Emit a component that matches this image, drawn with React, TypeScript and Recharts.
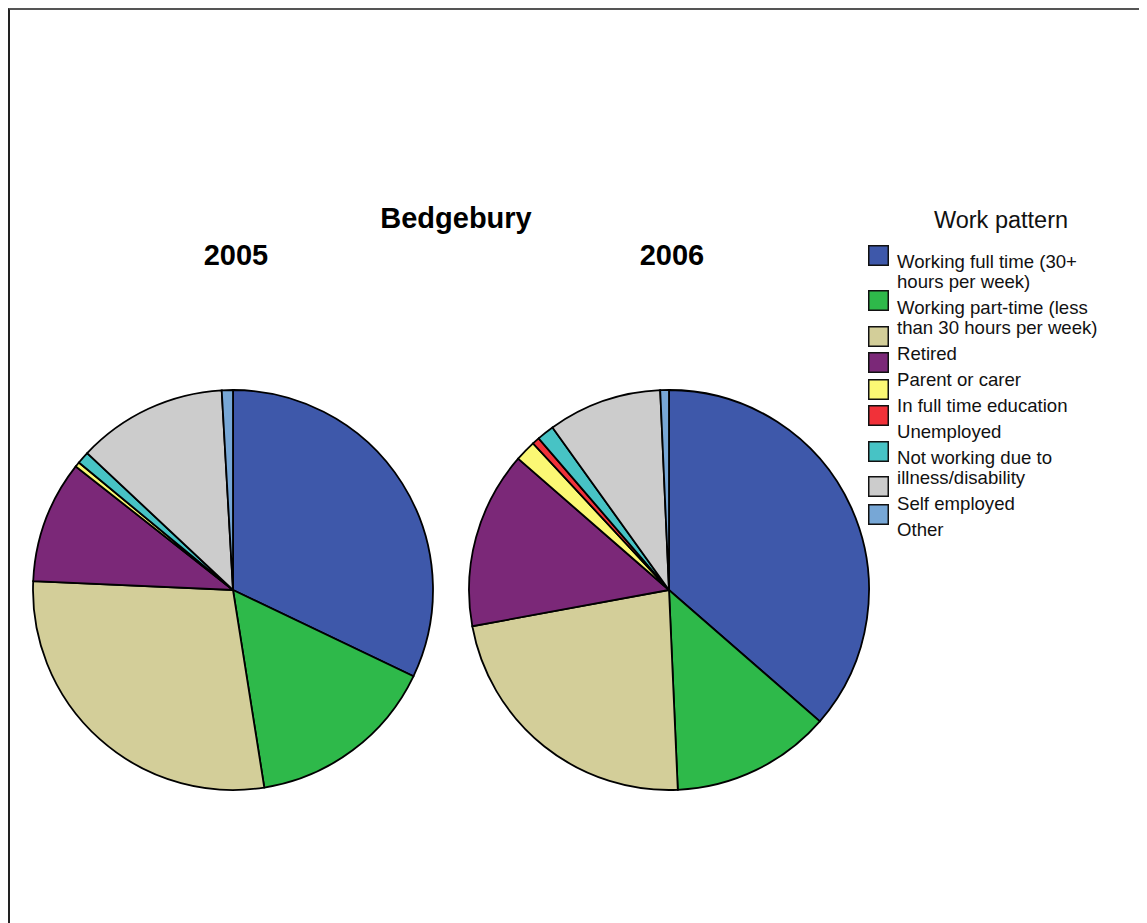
import React from 'react';
import { PieChart, Pie, Cell, Legend } from 'recharts';

// Work pattern categories, in legend / slice order
const categories = [
  'Working full time (30+ hours per week)',
  'Working part-time (less than 30 hours per week)',
  'Retired',
  'Parent or carer',
  'In full time education',
  'Unemployed',
  'Not working due to illness/disability',
  'Self employed',
  'Other',
];

// Legend text, wrapped the way it is printed
const legendLines = [
  ['Working full time (30+', 'hours per week)'],
  ['Working part-time (less', 'than 30 hours per week)'],
  ['Retired'],
  ['Parent or carer'],
  ['In full time education'],
  ['Unemployed'],
  ['Not working due to', 'illness/disability'],
  ['Self employed'],
  ['Other'],
];

// Share of respondents (%) per year
const values2005 = [32.1, 15.4, 28.2, 9.9, 0.4, 0, 1.0, 12.1, 0.9];
const values2006 = [36.4, 12.9, 22.8, 14.3, 1.7, 0.6, 1.4, 9.2, 0.7];

const colors = [
  '#3E58AA',
  '#2EB94A',
  '#D3CE99',
  '#7B2878',
  '#FBF874',
  '#F13139',
  '#47C3C5',
  '#CCCCCC',
  '#77A7D6',
];

const years = ['2005', '2006'];
const chartTitle = 'Bedgebury';
const legendTitle = 'Work pattern';

const data = categories.map((name, i) => ({
  name,
  y2005: values2005[i],
  y2006: values2006[i],
}));

const FONT = '"Liberation Sans", Arial, sans-serif';

// legend swatch tops (legend-local px)
const swatchTops = [45, 90, 126, 152, 179, 205, 241, 276, 304];

const renderLegend = () => {
  let y = 67.5;
  const textRows: React.ReactNode[] = [];
  legendLines.forEach((lines, i) => {
    lines.forEach((line, j) => {
      textRows.push(
        <text key={`t${i}-${j}`} x={37} y={y} fontSize={18.6} fill="#111" fontFamily={FONT}>
          {line}
        </text>
      );
      y += j < lines.length - 1 ? 20 : 26;
    });
  });
  return (
    <svg width={287} height={350} style={{ display: 'block' }}>
      <text x={141} y={28} textAnchor="middle" fontSize={23.5} fill="#111" fontFamily={FONT}>
        {legendTitle}
      </text>
      {categories.map((c, i) => (
        <rect
          key={c}
          x={8.75}
          y={swatchTops[i] + 0.75}
          width={19.5}
          height={19.5}
          fill={colors[i]}
          stroke="#111"
          strokeWidth={1.5}
        />
      ))}
      {textRows}
    </svg>
  );
};

export default function App() {
  return (
    <div
      style={{
        position: 'relative',
        width: 1137,
        height: 913,
        borderTop: '2px solid #555',
        borderLeft: '2px solid #222',
        background: '#fff',
      }}
    >
      <PieChart width={1137} height={913} margin={{ top: 0, right: 0, bottom: 0, left: 0 }}>
        <Pie
          data={data}
          dataKey="y2005"
          nameKey="name"
          cx={223}
          cy={580}
          outerRadius={200}
          startAngle={90}
          endAngle={-270}
          stroke="#000"
          strokeWidth={1.8}
          isAnimationActive={false}
        >
          {data.map((d, i) => (
            <Cell key={d.name} fill={colors[i]} />
          ))}
        </Pie>
        <Pie
          data={data}
          dataKey="y2006"
          nameKey="name"
          cx={659}
          cy={580}
          outerRadius={200}
          startAngle={90}
          endAngle={-270}
          stroke="#000"
          strokeWidth={1.8}
          isAnimationActive={false}
        >
          {data.map((d, i) => (
            <Cell key={d.name} fill={colors[i]} />
          ))}
        </Pie>
        <Legend
          content={renderLegend}
          wrapperStyle={{ position: 'absolute', left: 850, top: 190, width: 287, height: 350 }}
        />
      </PieChart>
      <svg
        width={1137}
        height={300}
        style={{ position: 'absolute', left: 0, top: 0, pointerEvents: 'none' }}
      >
        <text x={446} y={218} textAnchor="middle" fontSize={29} fontWeight="bold" fill="#000" fontFamily={FONT}>
          {chartTitle}
        </text>
        <text x={226} y={255} textAnchor="middle" fontSize={29} fontWeight="bold" fill="#000" fontFamily={FONT}>
          {years[0]}
        </text>
        <text x={662} y={255} textAnchor="middle" fontSize={29} fontWeight="bold" fill="#000" fontFamily={FONT}>
          {years[1]}
        </text>
      </svg>
    </div>
  );
}
